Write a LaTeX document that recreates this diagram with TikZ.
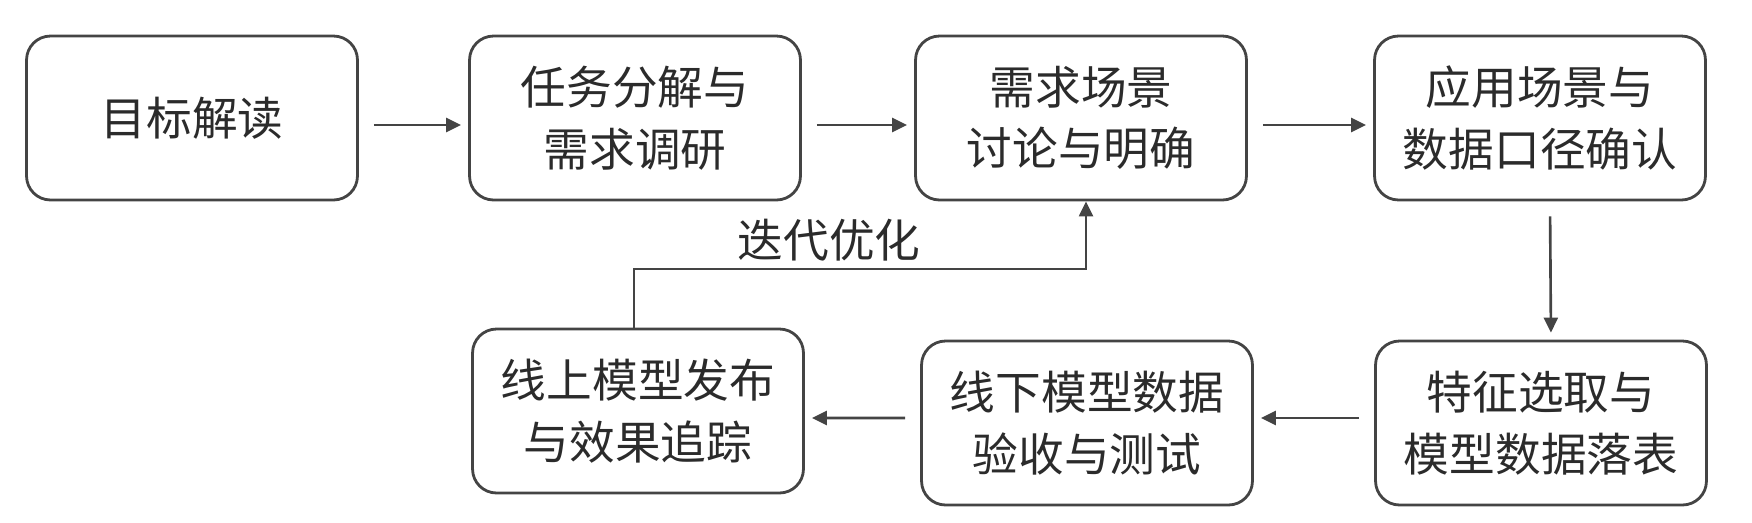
\documentclass[tikz,border=0pt]{standalone}
\usepackage{fontspec}
\usepackage{tikz}
\newfontfamily\cjk{Noto Sans CJK SC}
\usetikzlibrary{arrows.meta}
\definecolor{edgegray}{HTML}{444444}
\definecolor{textgray}{HTML}{2B2B2B}
\tikzset{
    stage/.style={draw=edgegray, line width=1.6pt, rounded corners=0.48cm,
        minimum width=6.62cm, minimum height=3.28cm, inner sep=0pt,
        align=center, text=textgray, font=\cjk\fontsize{26}{35}\selectfont},
    flow/.style={draw=edgegray, line width=1.5pt,
        -{Triangle[length=0.3cm,width=0.28cm]},
        shorten <=0.3cm, shorten >=0.14cm},
}
\begin{document}
\begin{tikzpicture}[x=0.02cm, y=-0.02cm]
    \useasboundingbox (0,0) rectangle (1752,522);

    \node[stage] (goal)    at (192,118)  {目标解读};
    \node[stage] (split)   at (635,118)  {任务分解与\\需求调研};
    \node[stage] (scene)   at (1081,118) {需求场景\\讨论与明确};
    \node[stage] (caliber) at (1540,118) {应用场景与\\数据口径确认};

    \node[stage] (online)  at (638,411)  {线上模型发布\\与效果追踪};
    \node[stage] (offline) at (1087,423) {线下模型数据\\验收与测试};
    \node[stage] (feature) at (1541,423) {特征选取与\\模型数据落表};

    \draw[flow] ([yshift=-0.14cm]goal.east) -- ([yshift=-0.14cm]split.west);
    \draw[flow] ([yshift=-0.14cm]split.east) -- ([yshift=-0.14cm]scene.west);
    \draw[flow] ([yshift=-0.14cm]scene.east) -- ([yshift=-0.14cm]caliber.west);
    \draw[flow] ([xshift=0.2cm]caliber.south) -- ([xshift=0.2cm]feature.north);
    \draw[flow] ([yshift=0.1cm]feature.west) -- ([yshift=0.1cm]offline.east);
    \draw[flow] ([yshift=0.1cm]offline.west) -- ([yshift=-0.14cm]online.east);

    \coordinate (loop) at (860,269);
    \draw[flow, line width=1.3pt, shorten <=0pt, shorten >=0pt]
        ([xshift=-0.08cm]online.north) |- (loop) -| ([xshift=0.1cm]scene.south);
    \node[text=textgray, font=\cjk\fontsize{26}{35}\selectfont] (iterate) at (829,240) {迭代优化};
\end{tikzpicture}
\end{document}
